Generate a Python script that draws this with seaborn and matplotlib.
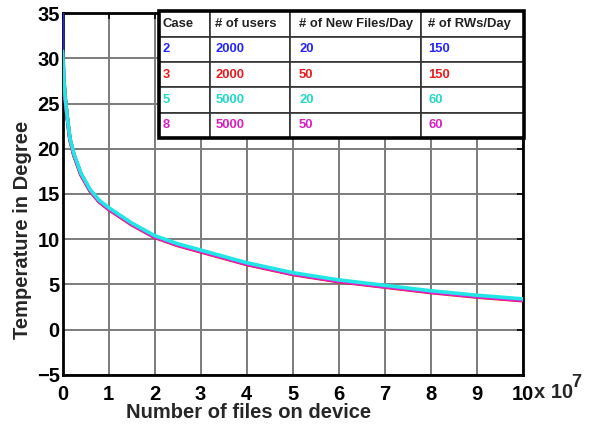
import pandas as pd
import matplotlib
matplotlib.use("Agg")
import matplotlib.pyplot as plt
import seaborn as sns
from matplotlib.patches import Rectangle

# data, x in units of 1e7 files
files = [0, 0.01, 0.03, 0.06, 0.1, 0.16, 0.25, 0.4, 0.6, 0.8, 1.0, 1.5, 2, 2.5, 3, 4, 5, 6, 7, 8, 9, 10]
temp_case2 = [35.0, 30.5, 27.6, 25.5, 23.6, 21.1, 19.3, 17.2, 15.4, 14.2, 13.4, 11.7, 10.3, 9.4, 8.7, 7.3, 6.2, 5.4, 4.8, 4.2, 3.7, 3.3]
temp_case3 = [28.5, 28.0, 27.3, 25.4, 23.5, 21.0, 19.2, 17.1, 15.3, 14.1, 13.3, 11.6, 10.2, 9.3, 8.6, 7.2, 6.1, 5.3, 4.7, 4.1, 3.6, 3.2]
temp_case5 = [30.8, 29.8, 27.7, 25.6, 23.7, 21.2, 19.4, 17.3, 15.5, 14.3, 13.5, 11.8, 10.4, 9.5, 8.8, 7.4, 6.3, 5.5, 4.9, 4.3, 3.8, 3.4]
temp_case8 = [28.0, 27.6, 27.3, 25.45, 23.55, 21.05, 19.25, 17.15, 15.35, 14.15, 13.35, 11.65, 10.25, 9.35, 8.65, 7.25, 6.15, 5.35, 4.75, 4.15, 3.65, 3.25]

cases = ["2", "3", "5", "8"]
users = ["2000", "2000", "5000", "5000"]
new_files = ["20", "50", "20", "50"]
rws = ["150", "150", "60", "60"]
header = ["Case", "# of users", "# of New Files/Day", "# of RWs/Day"]

colors = {"2": "#2424ff", "3": "#e81c1c", "8": "#e020d0", "5": "#22e6e6"}
text_colors = {"2": "#2424ff", "3": "#e81c1c", "5": "#22d8c8", "8": "#d820c0"}

# long format
df = pd.concat([
    pd.DataFrame({"files": files, "temp": temp_case2, "case": "2"}),
    pd.DataFrame({"files": files, "temp": temp_case3, "case": "3"}),
    pd.DataFrame({"files": files, "temp": temp_case8, "case": "8"}),
    pd.DataFrame({"files": files, "temp": temp_case5, "case": "5"}),
])

sns.set_style("white")
plt.rcParams["font.family"] = ["Liberation Sans", "DejaVu Sans"]
plt.rcParams["font.weight"] = "bold"

fig = plt.figure(figsize=(5.9, 4.24), dpi=100)
ax = fig.add_axes([0.106, 0.116, 0.78, 0.853])

for c in ["2", "3", "8", "5"]:
    sns.lineplot(data=df[df["case"] == c], x="files", y="temp", color=colors[c],
                 lw=2.6, sort=False, estimator=None, ax=ax, legend=False, zorder=3)

ax.set_xlim(0, 10)
ax.set_ylim(-5, 35)
ax.set_xticks(range(0, 11))
ax.set_yticks(range(-5, 36, 5))
ax.grid(True, color="#7c7c7c", lw=1.4)
for s in ax.spines.values():
    s.set_color("black")
    s.set_linewidth(2)
ax.tick_params(direction="in", length=4, width=1.2, top=True, right=True,
               labelsize=14.5, colors="black")
ax.tick_params(axis="x", pad=7)
ax.tick_params(axis="y", pad=2)

ax.set_xlabel("Number of files on device", fontsize=14.5, fontweight="bold")
ax.set_ylabel("Temperature in Degree", fontsize=14.5, fontweight="bold")
ax.xaxis.set_label_coords(0.405, -0.077)
ax.yaxis.set_label_coords(-0.066, 0.40)

ax.text(1.025, -0.05, "x 10", transform=ax.transAxes, fontsize=14.5, va="center", ha="left")
ax.text(1.105, -0.02, "7", transform=ax.transAxes, fontsize=13, va="center", ha="left")

# table with the cases
rows = [header] + [[cases[i], users[i], new_files[i], rws[i]] for i in range(4)]
tbl = ax.table(cellText=rows, colWidths=[51, 80, 131, 103], cellLoc="left",
               bbox=[0.209, 0.655, 0.794, 0.35])
tbl.auto_set_font_size(False)
tbl.set_zorder(6)
for (r, col), cell in tbl.get_celld().items():
    cell.set_linewidth(1.2)
    cell.set_edgecolor("#333333")
    cell.set_facecolor("white")
    cell.PAD = 0.07
    t = cell.get_text()
    t.set_fontsize(9.4)
    t.set_fontweight("bold")
    if r == 0:
        t.set_color("#222222")
    else:
        t.set_color(text_colors[cases[r - 1]])
ax.add_patch(Rectangle((0.209, 0.655), 0.794, 0.35, transform=ax.transAxes, fill=False,
                       ec="black", lw=2.6, zorder=7, clip_on=False))

fig.savefig("out.png", dpi=100)
